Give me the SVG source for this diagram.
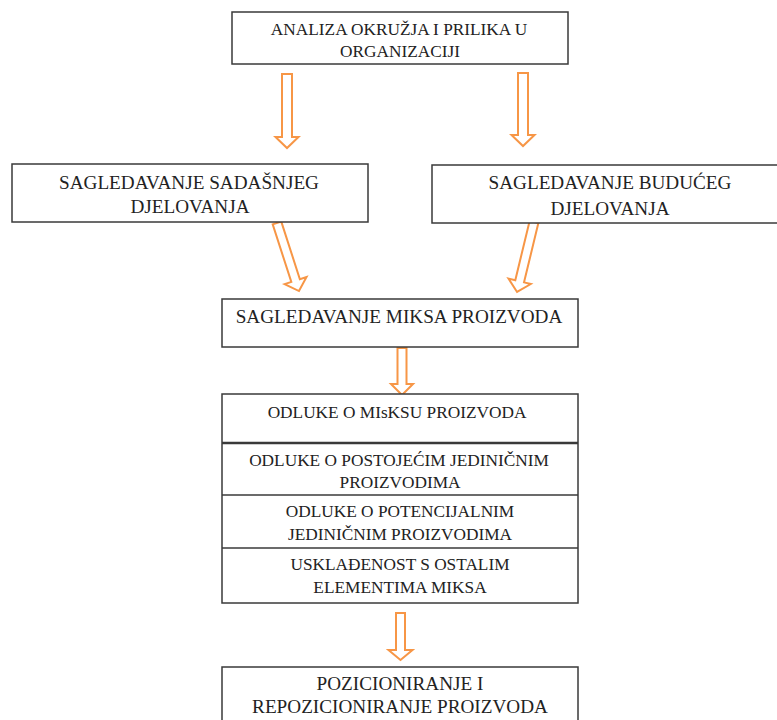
<svg xmlns="http://www.w3.org/2000/svg" width="777" height="720" viewBox="0 0 777 720">
<style>
.box{fill:#fff;stroke:#3a3a3a;stroke-width:1.5}
.sep{stroke:#3a3a3a;stroke-width:1.5}
.t{font-family:"Liberation Serif","Times New Roman",serif;font-size:19.2px;fill:#222;text-anchor:middle}
.s{font-size:17.3px}
.arr{fill:#fff;stroke:#f79646;stroke-width:2;stroke-linejoin:miter}
</style>
<rect width="777" height="720" fill="#fff"/>
<g id="connectors">
<path class="arr" d="M282,74 V137 H275.5 L287,148 L298.5,137 H292 V74 Z"/>
<path class="arr" d="M518,73 V135 H511.5 L523,146 L534.5,135 H528 V73 Z"/>
<path class="arr" transform="translate(277,223) rotate(-17.9)" d="M-4.5,0 V60.5 H-11.5 L0,71.5 L11.5,60.5 H4.5 V0 Z"/>
<path class="arr" transform="translate(534,222) rotate(13.6)" d="M-4.5,0 V61 H-11.5 L0,72 L11.5,61 H4.5 V0 Z"/>
<path class="arr" d="M397.5,348 V384 H391 L402,395 L413,384 H406.5 V348 Z"/>
<path class="arr" d="M396,613 V650 H388.5 L400.5,660 L412.5,650 H405 V613 Z"/>
</g>
<g id="n1">
<rect class="box" x="232" y="12" width="336" height="52"/>
<text class="t s" x="399" y="35">ANALIZA OKRUŽJA I PRILIKA U</text>
<text class="t s" x="400" y="57">ORGANIZACIJI</text>
</g>
<g id="n2">
<rect class="box" x="12" y="164" width="356" height="58"/>
<text class="t" x="189" y="189">SAGLEDAVANJE SADAŠNJEG</text>
<text class="t" x="190" y="213">DJELOVANJA</text>
</g>
<g id="n3">
<rect class="box" x="432" y="165" width="360" height="58"/>
<text class="t" x="610" y="189">SAGLEDAVANJE BUDUĆEG</text>
<text class="t" x="610" y="215">DJELOVANJA</text>
</g>
<g id="n4">
<rect class="box" x="222" y="299" width="356" height="48"/>
<text class="t" x="399" y="323">SAGLEDAVANJE MIKSA PROIZVODA</text>
</g>
<g id="n5">
<rect class="box" x="222" y="394" width="356" height="209"/>
<line class="sep" x1="222" y1="443" x2="578" y2="443" style="stroke-width:2.5"/>
<line class="sep" x1="222" y1="495" x2="578" y2="495"/>
<line class="sep" x1="222" y1="548" x2="578" y2="548"/>
<text class="t s" x="397" y="418">ODLUKE O MIsKSU PROIZVODA</text>
<text class="t s" x="399" y="466">ODLUKE O POSTOJEĆIM JEDINIČNIM</text>
<text class="t s" x="400" y="488">PROIZVODIMA</text>
<text class="t s" x="400" y="517">ODLUKE O POTENCIJALNIM</text>
<text class="t s" x="400" y="540">JEDINIČNIM PROIZVODIMA</text>
<text class="t s" x="400" y="570">USKLAĐENOST S OSTALIM</text>
<text class="t s" x="400" y="593">ELEMENTIMA MIKSA</text>
</g>
<g id="n6">
<rect class="box" x="222" y="667" width="356" height="70"/>
<text class="t" x="400" y="690">POZICIONIRANJE I</text>
<text class="t" x="400" y="713">REPOZICIONIRANJE PROIZVODA</text>
</g>
</svg>
